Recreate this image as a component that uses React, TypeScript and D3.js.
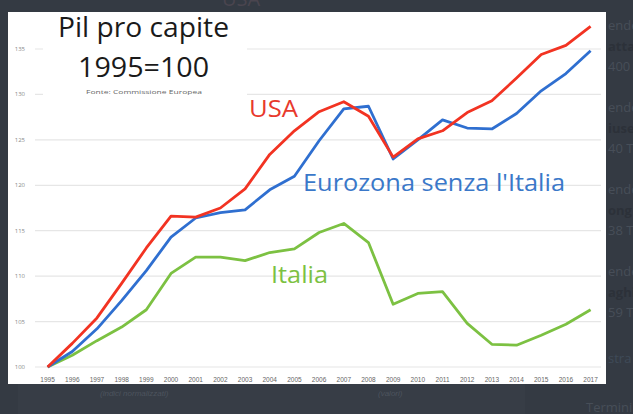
import React from "react";
import * as d3 from "d3";

const years: number[] = d3.range(1995, 2018);
const usa: number[] = [100, 102.6, 105.4, 109.2, 113.1, 116.6, 116.5, 117.5, 119.6, 123.4, 126.0, 128.1, 129.2, 127.6, 123.1, 125.1, 126.0, 128.0, 129.3, 131.8, 134.4, 135.4, 137.5];
const eurozona: number[] = [100, 101.7, 104.2, 107.3, 110.6, 114.3, 116.4, 117.0, 117.3, 119.5, 121.0, 124.9, 128.4, 128.7, 122.9, 125.0, 127.2, 126.3, 126.2, 127.9, 130.4, 132.3, 134.8];
const italia: number[] = [100, 101.3, 102.9, 104.4, 106.3, 110.3, 112.1, 112.1, 111.7, 112.6, 113.0, 114.8, 115.8, 113.7, 106.9, 108.1, 108.3, 104.8, 102.5, 102.4, 103.5, 104.7, 106.3];
const yTicks: number[] = [100, 105, 110, 115, 120, 125, 130, 135];

const W = 633;
const H = 414;

export default function App() {
  const x = d3.scaleLinear().domain([1995, 2017]).range([47.6, 590.6]);
  const y = d3.scaleLinear().domain([100, 135]).range([367, 49]);
  const line = d3
    .line<number>()
    .x((_, i) => x(years[i]))
    .y((d) => y(d));

  const font = "'Open Sans', 'Noto Sans', sans-serif";
  const ghost = "#474e58";
  const ghostBold = "#2c3139";

  return (
    <svg
      width={W}
      height={H}
      style={{ position: "absolute", left: 0, top: 0, display: "block" }}
    >
      <rect x={0} y={0} width={W} height={H} fill="#343a43" />
      {/* faint background elements */}
      <rect x={18} y={384} width={507} height={30} fill="#373d46" />
      <text x={222} y={6} fontFamily={font} fontSize={20} fill="#4a454f">USA</text>
      <g fontFamily={font} fontSize={13}>
        <text x={608} y={30} fill={ghost}>ende</text>
        <text x={608} y={51} fill={ghostBold} fontWeight="bold">attar</text>
        <text x={608} y={71} fill={ghost}>400</text>
        <text x={608} y={112} fill={ghost}>ende</text>
        <text x={608} y={133} fill={ghostBold} fontWeight="bold">iuse</text>
        <text x={608} y={153} fill={ghost}>40 T</text>
        <text x={608} y={194} fill={ghost}>ende</text>
        <text x={608} y={215} fill={ghostBold} fontWeight="bold">ong</text>
        <text x={608} y={235} fill={ghost}>38 T</text>
        <text x={608} y={276} fill={ghost}>ende</text>
        <text x={608} y={297} fill={ghostBold} fontWeight="bold">aghi</text>
        <text x={608} y={317} fill={ghost}>59 T</text>
        <text x={608} y={363} fill="#3f4a58">stra</text>
        <text x={586} y={412} fill={ghost}>Termini</text>
      </g>
      <g fontFamily="'Liberation Sans', sans-serif" fontSize={8} fontStyle="italic" fill="#4d545e">
        <text x={100} y={396}>(indici normalizzati)</text>
        <text x={378} y={396}>(valori)</text>
      </g>

      {/* chart panel */}
      <rect x={8} y={12} width={598} height={372} fill="#ffffff" />

      {yTicks.map((t) => (
        <g key={t}>
          <line x1={35} x2={601} y1={y(t)} y2={y(t)} stroke="#e6e6e6" strokeWidth={1.2} />
          <text
            x={25}
            y={y(t) + 2}
            textAnchor="end"
            fontFamily={font}
            fontSize={6}
            fill="#8a8a8a"
          >
            {t}
          </text>
        </g>
      ))}

      {years.map((yr) => (
        <text
          key={yr}
          x={x(yr)}
          y={382}
          textAnchor="middle"
          fontFamily="'Liberation Sans', sans-serif"
          fontSize={6.5}
          fill="#666666"
        >
          {yr}
        </text>
      ))}

      {/* title box */}
      <rect x={43} y={12} width={204} height={88} fill="#ffffff" />
      <text x={58} y={37} fontFamily={font} fontSize={27} fill="#1a1a1a" textLength={171} lengthAdjust="spacingAndGlyphs">
        Pil pro capite
      </text>
      <text x={78} y={77} fontFamily={font} fontSize={28} fill="#1a1a1a" textLength={131} lengthAdjust="spacingAndGlyphs">
        1995=100
      </text>
      <text x={86} y={94} fontFamily={font} fontSize={6} fill="#666" textLength={116} lengthAdjust="spacingAndGlyphs">
        Fonte: Commissione Europea
      </text>

      <path d={line(italia) || ""} fill="none" stroke="#7cc142" strokeWidth={2.8} strokeLinejoin="round" />
      <path d={line(eurozona) || ""} fill="none" stroke="#2f6fd0" strokeWidth={2.8} strokeLinejoin="round" />
      <path d={line(usa) || ""} fill="none" stroke="#f23322" strokeWidth={2.8} strokeLinejoin="round" />

      <text x={249} y={117} fontFamily={font} fontSize={24} fill="#e8392c" textLength={49} lengthAdjust="spacingAndGlyphs">
        USA
      </text>
      <text x={303} y={191} fontFamily={font} fontSize={24} fill="#3a78c9" textLength={262} lengthAdjust="spacingAndGlyphs">
        Eurozona senza l'Italia
      </text>
      <text x={271} y={283} fontFamily={font} fontSize={24} fill="#7cc142" textLength={57} lengthAdjust="spacingAndGlyphs">
        Italia
      </text>
    </svg>
  );
}
